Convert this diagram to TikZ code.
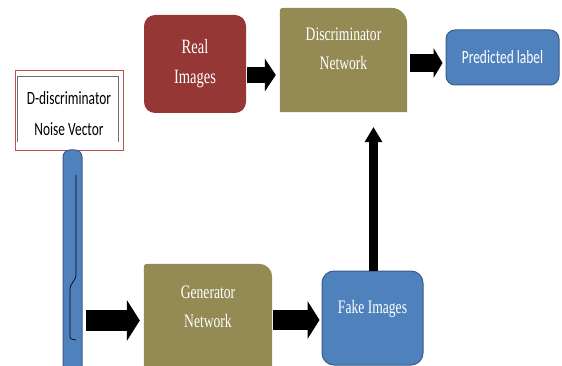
\documentclass[tikz,border=0pt]{standalone}
\usepackage{fontspec}
\setmainfont{Liberation Serif}
\newfontfamily\calib{Carlito}
\usetikzlibrary{arrows.meta,calc,backgrounds}
\definecolor{realred}{RGB}{149,55,53}
\definecolor{olivebox}{RGB}{148,138,84}
\definecolor{bluebox}{RGB}{79,129,189}
\definecolor{blueedge}{RGB}{56,93,138}
\definecolor{pinkedge}{RGB}{192,80,77}
\definecolor{grayline}{RGB}{110,110,110}
\newcommand\vst[1]{\scalebox{1}[1.4]{#1}}
\tikzset{
  box/.style={inner sep=0pt, align=center, text=white},
  serifA/.style={font=\fontsize{14.5}{30}\selectfont},
  serifB/.style={font=\fontsize{13.6}{28.5}\selectfont},
  sansA/.style={font=\calib\fontsize{13.4}{31}\selectfont},
  blk/.style n args={3}{line width=#1, -{Triangle[length=#2 0, width=#3 0, line width=0pt]}},
}
\begin{document}
\begin{tikzpicture}[x=1pt,y=-1pt]
\useasboundingbox (0,0) rectangle (562,366);
% nodes
\node[box, serifA, fill=realred, rounded corners=11pt, minimum width=102pt, minimum height=98pt] (real) at (195,64) {\vst{Real}\\\vst{Images}};
\node[box, serifB, minimum width=127pt, minimum height=104pt, text height=41pt, text depth=22pt] (disc) at (343.5,60) {\vst{Discriminator}\\\vst{Network}};
\node[box, sansA, fill=bluebox, draw=blueedge, line width=1pt, rounded corners=9pt, minimum width=113pt, minimum height=55pt] (pred) at (502.5,57.5) {\vst{Predicted label}};
\node[box, sansA, text=black, fill=white, draw=pinkedge, line width=0.8pt, minimum width=108pt, minimum height=80pt, text height=52pt, text depth=0pt] (noise) at (69,110) {\vst{D-discriminator}\\\vst{Noise Vector}};
\node[fill=bluebox, draw=blueedge, line width=1pt, rounded corners=7pt, minimum width=19pt, minimum height=240pt, inner sep=0pt] (bar) at (72.5,270) {};
\node[box, serifB, minimum width=128pt, minimum height=86pt] (gen) at (208,307) {\vst{Generator}\\\vst{Network}};
\node[box, serifB, fill=bluebox, draw=blueedge, line width=1pt, rounded corners=12pt, minimum width=101pt, minimum height=94pt, text height=13pt, text depth=22pt] (fake) at (372.5,318) {\vst{Fake Images}};
% details
\draw[grayline, line width=1pt] ($(noise.south west)+(3,-8)$) -- ($(noise.north west)+(3,7)$) -- ($(noise.north east)+(-5,7)$) -- ($(noise.south east)+(-5,-8)$);
\draw[line width=0.7pt] (76,175) -- (76,274) .. controls (76,282) and (70,282) .. (70,290) -- (70,335) .. controls (70,339) .. (76,340);
% shapes behind
\begin{scope}[on background layer]
\fill[olivebox] (disc.south west) [rounded corners=3pt] -- (disc.north west) [rounded corners=16pt] -- (disc.north east) [sharp corners] -- (disc.south east) -- cycle;
\fill[olivebox] ($(gen.south west)+(0,40)$) [rounded corners=3pt] -- (gen.north west) [rounded corners=13pt] -- (gen.north east) [sharp corners] -- ($(gen.south east)+(0,40)$) -- cycle;
\end{scope}
% arrows
\draw[blk={21pt}{13pt}{41pt}] ($(bar.east |- gen.west)+(3,13.5)$) -- ($(gen.west)+(-4,13.5)$);
\draw[blk={20pt}{12pt}{38pt}] ($(gen.east)+(1,13)$) -- ($(fake.west |- gen.east)+(-2,13)$);
\draw[blk={9pt}{15pt}{18pt}] ($(fake.north)+(1,0)$) -- ($(disc.south -| fake.north)+(1,15)$);
\draw[blk={16pt}{11pt}{33pt}] ($(real.east)+(1,11)$) -- ($(disc.west |- real.east)+(-4,11)$);
\draw[blk={18pt}{9pt}{30pt}] ($(disc.east)+(3,3)$) -- ($(pred.west |- disc.east)+(-3,3)$);
\end{tikzpicture}
\end{document}
